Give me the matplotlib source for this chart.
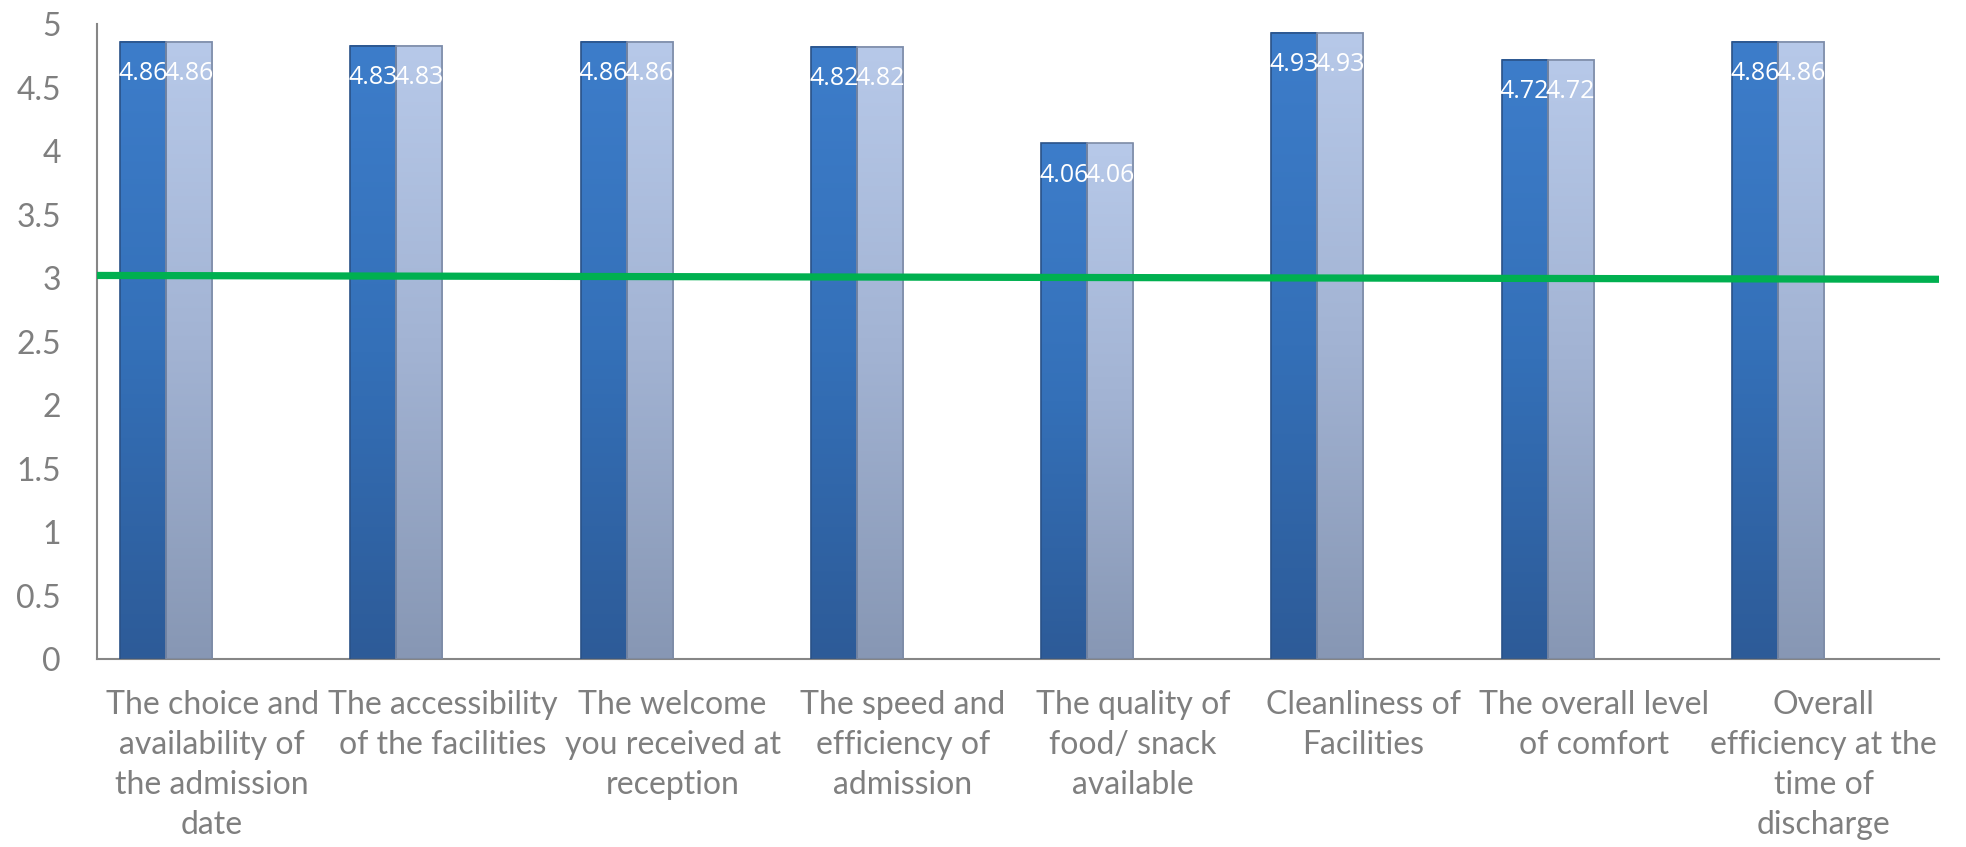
import numpy as np
import matplotlib.pyplot as plt
from matplotlib.colors import LinearSegmentedColormap

categories = [
    "The choice and\navailability of\nthe admission\ndate",
    "The accessibility\nof the facilities",
    "The welcome\nyou received at\nreception",
    "The speed and\nefficiency of\nadmission",
    "The quality of\nfood/ snack\navailable",
    "Cleanliness of\nFacilities",
    "The overall level\nof comfort",
    "Overall\nefficiency at the\ntime of\ndischarge",
]
series_a = [4.86, 4.83, 4.86, 4.82, 4.06, 4.93, 4.72, 4.86]
series_b = [4.86, 4.83, 4.86, 4.82, 4.06, 4.93, 4.72, 4.86]
benchmark = [3.02, 2.99]   # green reference line, left end / right end
yticks = [0, 0.5, 1, 1.5, 2, 2.5, 3, 3.5, 4, 4.5, 5]

plt.rcParams['font.family'] = ['Lato', 'DejaVu Sans']

fig = plt.figure(figsize=(19.66, 8.47), dpi=100)
ax = fig.add_axes([97 / 1966, 1 - 659 / 847, (1939 - 97) / 1966, (659 - 24) / 847])

cmap_a = LinearSegmentedColormap.from_list('a', ['#2d5b98', '#3470b8', '#3d7dca'])
cmap_b = LinearSegmentedColormap.from_list('b', ['#8797b4', '#a2b3d3', '#b7c9e9'])
grad = np.linspace(0, 1, 256).reshape(-1, 1)

x = np.arange(len(categories))
w = 0.2
for vals, off, cmap, edge in [(series_a, -1.5, cmap_a, '#2a5288'),
                              (series_b, -0.5, cmap_b, '#7d8ba6')]:
    for xi, v in zip(x, vals):
        x0 = xi + off * w - w / 2
        ax.imshow(grad, extent=[x0, x0 + w, 0, v], origin='lower',
                  aspect='auto', cmap=cmap, zorder=2)
        ax.bar(xi + off * w, v, width=w, facecolor='none', edgecolor=edge,
               linewidth=1.2, zorder=3)
        ax.annotate(f"{v:.2f}", (xi + off * w, v), xytext=(0, -14),
                    textcoords='offset points', ha='center', va='top',
                    color='white', fontsize=18, family='Open Sans', zorder=6)

ax.plot([-0.5, len(categories) - 0.5], benchmark, color='#00b050', lw=5.2,
        solid_capstyle='butt', zorder=5)

ax.set_xlim(-0.5, len(categories) - 0.5)
ax.set_ylim(0, 5)
ax.set_yticks(yticks)
ax.set_yticklabels([f"{t:g}" for t in yticks])
ax.set_xticks(x)
ax.set_xticklabels(categories, linespacing=1.42)

for s in ['top', 'right']:
    ax.spines[s].set_visible(False)
for s in ['left', 'bottom']:
    ax.spines[s].set_color('#868686')
    ax.spines[s].set_linewidth(1.5)
ax.tick_params(axis='y', length=0, pad=26, labelsize=23, labelcolor='#7f7f7f')
ax.tick_params(axis='x', length=0, pad=22, labelsize=23, labelcolor='#7f7f7f')

fig.savefig('out.png', dpi=100)
